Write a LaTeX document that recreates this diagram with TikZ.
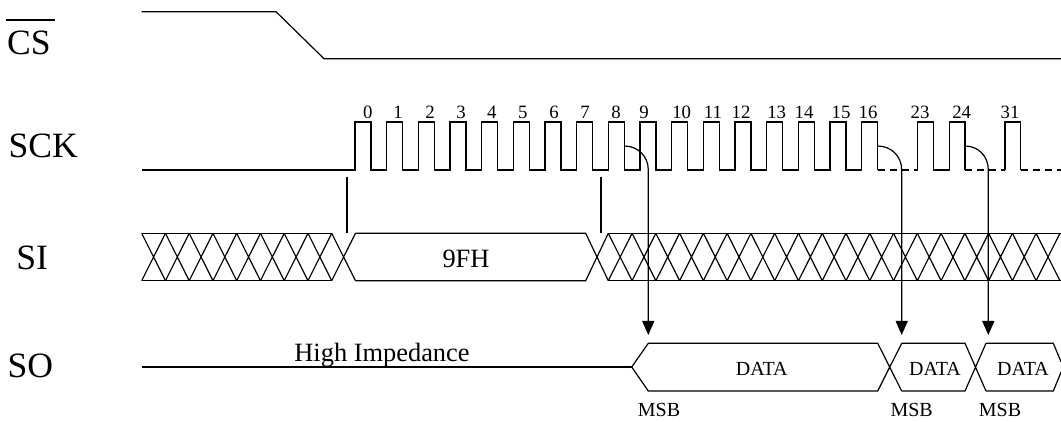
\documentclass[tikz,border=0pt]{standalone}
\usepackage{fontspec}
\setmainfont{Liberation Serif}
\usetikzlibrary{arrows.meta}
\begin{document}
\begin{tikzpicture}[x=0.5pt,y=-0.5pt,
  wave/.style={line width=0.6pt, draw=black},
  dashwave/.style={wave, dash pattern=on 3.5pt off 2.5pt},
  big/.style={font=\fontsize{17.8}{20}\selectfont, inner sep=0pt, anchor=base west},
  num/.style={font=\fontsize{9.4}{10}\selectfont, inner sep=0pt, anchor=base},
  mid/.style={font=\fontsize{13.2}{15}\selectfont, inner sep=0pt, anchor=base},
  small/.style={font=\fontsize{10}{12}\selectfont, inner sep=0pt, anchor=base},
  samp/.style={wave, -{Triangle[length=7pt,width=6pt]}}]
\useasboundingbox (0,0) rectangle (1061,422);

% ---------- signal names ----------
\node[big] (lcs) at (6.7,55) {CS};
\draw[wave] (6,20) -- (55,20);
\node[big] (lsck) at (8.3,157.7) {SCK};
\node[big] (lsi) at (16,269.3) {SI};
\node[big] (lso) at (7.3,378) {SO};

% ---------- CS ----------
\draw[wave] (141.7,11.7) -- (276,11.7) -- (324,58.7) -- (1061,58.7);

% ---------- SCK ----------
\draw[wave] (142,170) foreach \k in {0,...,16} {
  -- (355+31.667*\k,170) -- (355+31.667*\k,122) -- (371+31.667*\k,122) -- (371+31.667*\k,170) };
\draw[line width=1.1pt] (260,170) -- (277,170);
\draw[dashwave] (877.7,170) -- (917.7,170);
\draw[wave] (917.7,170) -- (917.7,122) -- (933.3,122) -- (933.3,170) -- (949.3,170) -- (949.3,122) -- (965,122) -- (965,170);
\draw[dashwave] (965,170) -- (1005,170);
\draw[wave] (1005,170) -- (1005,122) -- (1020.7,122) -- (1020.7,170);
\draw[dashwave] (1020.7,170) -- (1061,170);

% clock numbers
\foreach \x/\t [count=\i] in {367.7/0,398/1,430/2,461/3,491.7/4,522.7/5,554/6,585/7,616/8,644/9,681.7/10,713/11,741/12,776.7/13,804/14,841/15,868/16,920/23,961.7/24,1010/31}
  \node[num] (n\i) at (\x,118.3) {\t};

% ticks
\draw[wave] (347,177) -- (347,233.3);
\draw[wave] (601,177) -- (601,233.3);

% ---------- SI ----------
\def\T{233.3}\def\B{280.7}
\draw[wave] (141.7,\T) -- (331.7,\T) (141.7,\B) -- (331.7,\B);
\foreach \k in {0,...,8}
  \draw[wave] (141.7+23.75*\k,\T) -- (165.45+23.75*\k,\B) (141.7+23.75*\k,\B) -- (165.45+23.75*\k,\T);
\draw[wave] (355.45,\T) -- (585.7,\T) -- (608.3,\B) (355.45,\B) -- (585.7,\B) -- (608.3,\T);
\node[mid] (si) at (466,267.7) {9FH};
\draw[wave] (608.3,\T) -- (1061,\T) (608.3,\B) -- (1061,\B);
\foreach \k in {0,...,18}
  \draw[wave] (608.3+23.77*\k,\T) -- (632.07+23.77*\k,\B) (608.3+23.77*\k,\B) -- (632.07+23.77*\k,\T);

% ---------- SO ----------
\draw[wave] (142,367) -- (631.7,367);
\node[mid] (hiz) at (382,362) {High Impedance};
\draw[wave] (631.7,367) -- (648.3,343.3) -- (877.7,343.3) -- (901.7,391)
            (631.7,367) -- (648.3,391) -- (877.7,391) -- (901.7,343.3);
\draw[wave] (901.7,343.3) -- (965,343.3) -- (986,391)
            (901.7,391) -- (965,391) -- (986,343.3);
\draw[wave] (986,343.3) -- (1053.3,343.3) -- (1061,361.7)
            (986,391) -- (1053.3,391) -- (1061,372.3);
\node[small] (d1) at (761.7,376) {DATA};
\node[small] (d2) at (935,376) {DATA};
\node[small] (d3) at (1023,376) {DATA};
\node[small] (m1) at (659,416) {MSB};
\node[small] (m2) at (911.7,416) {MSB};
\node[small] (m3) at (1000,416) {MSB};

% ---------- sampling arrows ----------
\coordinate (s1) at (624.3,146);  \coordinate (t1) at (648.3,335);
\coordinate (s2) at (877.7,146);  \coordinate (t2) at (901.7,335);
\coordinate (s3) at (965,146);    \coordinate (t3) at (988.3,335);
\draw[samp] (s1) .. controls +(13.2,0) and (t1|-0,156) .. (t1|-0,170) -- (t1);
\draw[samp] (s2) .. controls +(13.2,0) and (t2|-0,156) .. (t2|-0,170) -- (t2);
\draw[samp] (s3) .. controls +(13.2,0) and (t3|-0,156) .. (t3|-0,170) -- (t3);
\end{tikzpicture}
\end{document}
